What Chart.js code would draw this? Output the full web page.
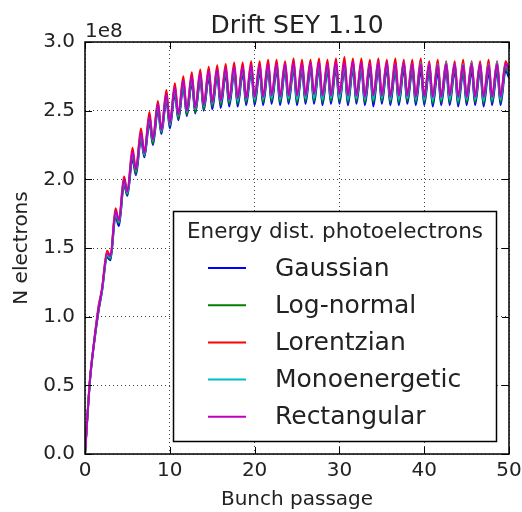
<!DOCTYPE html>
<html>
<head>
<meta charset="utf-8">
<script src="https://cdn.jsdelivr.net/npm/chart.js@4/dist/chart.umd.min.js"></script>
<style>
  body { margin: 0; background: #fff; }
</style>
</head>
<body>
<canvas id="seyChart" width="522" height="512"></canvas>
<script>
// values in units of 1e8 electrons
// troughs sit at each bunch passage n, peaks at n + peakPhase
var peakPhase = 0.6;
var seriesNames = ["Gaussian", "Log-normal", "Lorentzian", "Monoenergetic", "Rectangular"];
var seriesColors = ["#0000ff", "#008000", "#ff0000", "#00bfbf", "#bf00bf"];

var gaussPeaks = [0.54,1.04,1.43,1.73,1.96,2.15,2.29,2.41,2.50,2.57,2.62,2.67,2.70,2.72,2.74,2.75,2.76,2.77,2.77,2.78,2.78,2.79,2.79,2.79,2.80,2.79,2.80,2.80,2.79,2.80,2.80,2.80,2.80,2.79,2.80,2.80,2.79,2.80,2.79,2.79,2.79,2.78,2.79,2.79,2.78,2.79,2.79,2.78,2.79,2.79];
var gaussTroughs = [0,0.77,1.18,1.41,1.66,1.88,2.03,2.16,2.25,2.33,2.37,2.43,2.46,2.48,2.50,2.51,2.52,2.53,2.53,2.54,2.54,2.54,2.55,2.54,2.55,2.54,2.55,2.55,2.54,2.55,2.55,2.54,2.55,2.54,2.53,2.55,2.54,2.54,2.55,2.54,2.54,2.53,2.54,2.54,2.53,2.54,2.54,2.53,2.54,2.54,2.74];

var lognPeaks = [0.55,1.05,1.44,1.74,1.97,2.17,2.31,2.43,2.52,2.59,2.64,2.69,2.72,2.74,2.76,2.77,2.78,2.79,2.79,2.80,2.80,2.81,2.81,2.81,2.82,2.81,2.82,2.82,2.81,2.82,2.82,2.82,2.82,2.81,2.82,2.82,2.81,2.82,2.81,2.82,2.81,2.81,2.82,2.81,2.81,2.82,2.81,2.81,2.82,2.81];
var lognTroughs = [0,0.77,1.19,1.42,1.68,1.89,2.04,2.17,2.26,2.34,2.39,2.44,2.47,2.49,2.51,2.53,2.54,2.55,2.55,2.56,2.56,2.56,2.57,2.56,2.57,2.56,2.57,2.57,2.56,2.57,2.57,2.56,2.57,2.56,2.56,2.57,2.56,2.56,2.57,2.56,2.56,2.55,2.56,2.56,2.55,2.56,2.56,2.55,2.56,2.56,2.76];

var lorentzPeaks = [0.56,1.08,1.48,1.79,2.02,2.23,2.37,2.49,2.57,2.65,2.70,2.75,2.78,2.80,2.82,2.83,2.84,2.85,2.85,2.86,2.86,2.87,2.87,2.86,2.88,2.87,2.87,2.88,2.87,2.88,2.89,2.88,2.88,2.87,2.88,2.87,2.88,2.87,2.87,2.88,2.86,2.87,2.86,2.86,2.87,2.86,2.86,2.87,2.86,2.86];
var lorentzTroughs = [0,0.78,1.20,1.44,1.70,1.91,2.07,2.19,2.29,2.36,2.41,2.47,2.50,2.52,2.54,2.56,2.57,2.58,2.58,2.59,2.59,2.60,2.60,2.60,2.61,2.60,2.61,2.61,2.60,2.61,2.61,2.60,2.61,2.60,2.60,2.61,2.60,2.60,2.61,2.60,2.60,2.59,2.60,2.60,2.59,2.60,2.60,2.59,2.60,2.60,2.80];

var monoPeaks = [0.55,1.06,1.45,1.76,1.99,2.19,2.33,2.45,2.54,2.61,2.66,2.71,2.74,2.76,2.78,2.79,2.80,2.81,2.81,2.82,2.82,2.83,2.83,2.83,2.84,2.83,2.84,2.84,2.83,2.84,2.84,2.84,2.84,2.84,2.85,2.84,2.84,2.85,2.84,2.85,2.84,2.84,2.85,2.84,2.84,2.85,2.84,2.84,2.85,2.84];
var monoTroughs = [0,0.78,1.19,1.43,1.69,1.90,2.06,2.18,2.28,2.35,2.40,2.46,2.49,2.51,2.53,2.55,2.56,2.57,2.57,2.58,2.58,2.58,2.59,2.58,2.59,2.58,2.59,2.59,2.58,2.59,2.59,2.58,2.59,2.58,2.58,2.59,2.58,2.58,2.59,2.58,2.58,2.57,2.58,2.58,2.57,2.58,2.58,2.57,2.58,2.58,2.78];

var rectPeaks = [0.55,1.06,1.46,1.77,2.00,2.20,2.34,2.46,2.55,2.62,2.67,2.72,2.75,2.77,2.79,2.80,2.81,2.82,2.82,2.83,2.83,2.84,2.84,2.84,2.85,2.84,2.85,2.85,2.84,2.85,2.85,2.86,2.85,2.84,2.85,2.85,2.84,2.85,2.84,2.84,2.84,2.83,2.84,2.84,2.83,2.84,2.84,2.83,2.84,2.84];
var rectTroughs = [0,0.78,1.20,1.44,1.70,1.91,2.07,2.19,2.29,2.36,2.41,2.47,2.50,2.52,2.54,2.56,2.57,2.58,2.59,2.59,2.60,2.60,2.61,2.60,2.61,2.61,2.61,2.62,2.61,2.61,2.62,2.61,2.61,2.60,2.61,2.61,2.60,2.61,2.61,2.60,2.60,2.60,2.60,2.61,2.60,2.60,2.60,2.60,2.60,2.60,2.79];

var xTicks = [0, 10, 20, 30, 40, 50];
var yTicks = [0, 0.5, 1.0, 1.5, 2.0, 2.5, 3.0];

var peaksList = [gaussPeaks, lognPeaks, lorentzPeaks, monoPeaks, rectPeaks];
var troughsList = [gaussTroughs, lognTroughs, lorentzTroughs, monoTroughs, rectTroughs];

function buildPoints(troughs, peaks) {
  var pts = [];
  for (var n = 0; n < troughs.length; n++) {
    pts.push({x: n, y: troughs[n]});
    if (n < peaks.length) pts.push({x: n + peakPhase, y: peaks[n]});
  }
  return pts;
}

var FONT = "'DejaVu Sans', sans-serif";

var datasets = seriesNames.map(function(name, i) {
  return {
    label: name,
    data: buildPoints(troughsList[i], peaksList[i]),
    borderColor: seriesColors[i],
    borderWidth: 2,
    pointRadius: 0,
    fill: false,
    cubicInterpolationMode: 'monotone',
    order: seriesNames.length - 1 - i  // later series on top, like matplotlib
  };
});

var framePlugin = {
  id: 'frame',
  afterDraw: function(chart) {
    var c = chart.ctx, a = chart.chartArea;
    var sx = chart.scales.x, sy = chart.scales.y;
    c.save();
    // frame
    c.strokeStyle = '#000';
    c.lineWidth = 1.5;
    c.strokeRect(a.left, a.top, a.right - a.left, a.bottom - a.top);
    // inward ticks on all four sides
    c.lineWidth = 1;
    var tl = 7;
    c.beginPath();
    xTicks.forEach(function(v) {
      var px = Math.round(sx.getPixelForValue(v)) + 0.5;
      c.moveTo(px, a.bottom); c.lineTo(px, a.bottom - tl);
      c.moveTo(px, a.top); c.lineTo(px, a.top + tl);
    });
    yTicks.forEach(function(v) {
      var py = Math.round(sy.getPixelForValue(v)) + 0.5;
      c.moveTo(a.left, py); c.lineTo(a.left + tl, py);
      c.moveTo(a.right, py); c.lineTo(a.right - tl, py);
    });
    c.stroke();
    // title and offset text
    c.fillStyle = '#222';
    c.textBaseline = 'alphabetic';
    c.textAlign = 'center';
    c.font = '25px ' + FONT;
    c.fillText('Drift SEY 1.10', (a.left + a.right) / 2, 33);
    c.textAlign = 'left';
    c.font = '20px ' + FONT;
    c.fillText('1e8', a.left, 37);
    // legend box
    var bx = 173.5, by = 211.5, bw = 323, bh = 230;
    c.fillStyle = '#fff';
    c.fillRect(bx, by, bw, bh);
    c.strokeStyle = '#000';
    c.lineWidth = 1.5;
    c.strokeRect(bx, by, bw, bh);
    c.fillStyle = '#222';
    c.textAlign = 'center';
    c.textBaseline = 'middle';
    c.font = '21.5px ' + FONT;
    c.fillText('Energy dist. photoelectrons', bx + bw / 2, 232);
    c.textAlign = 'left';
    c.font = '25px ' + FONT;
    seriesNames.forEach(function(name, i) {
      var y = 268 + i * 37.2;
      c.strokeStyle = seriesColors[i];
      c.lineWidth = 2;
      c.beginPath();
      c.moveTo(208, y); c.lineTo(246, y);
      c.stroke();
      c.fillStyle = '#222';
      c.fillText(name, 275, y + 1);
    });
    c.restore();
  }
};

new Chart(document.getElementById('seyChart'), {
  type: 'line',
  data: { datasets: datasets },
  plugins: [framePlugin],
  options: {
    responsive: false,
    animation: false,
    layout: { padding: { top: 42, right: 13, left: 0, bottom: 0 } },
    plugins: {
      legend: { display: false },
      title: { display: false },
      tooltip: { enabled: false }
    },
    scales: {
      x: {
        type: 'linear',
        min: 0, max: 50,
        afterFit: function(s) { s.height = 58; s.paddingLeft = 0; s.paddingRight = 0; },
        afterBuildTicks: function(s) { s.ticks = xTicks.map(function(v) { return {value: v}; }); },
        ticks: { color: '#222', padding: 5, font: { family: FONT, size: 20 }, maxRotation: 0 },
        grid: { color: 'rgba(0,0,0,0.75)', lineWidth: 1, drawTicks: false },
        border: { display: false, dash: [1, 3] },
        title: { display: true, text: 'Bunch passage', color: '#222', padding: { top: 0, bottom: 0 }, font: { family: FONT, size: 20 } }
      },
      y: {
        min: 0, max: 3,
        afterFit: function(s) { s.width = 85; s.paddingTop = 0; s.paddingBottom = 0; },
        afterBuildTicks: function(s) { s.ticks = yTicks.map(function(v) { return {value: v}; }); },
        ticks: { color: '#222', padding: 10, font: { family: FONT, size: 20 }, callback: function(v) { return v.toFixed(1); } },
        grid: { color: 'rgba(0,0,0,0.75)', lineWidth: 1, drawTicks: false },
        border: { display: false, dash: [1, 3] },
        title: { display: true, text: 'N electrons', color: '#222', padding: { top: 10, bottom: 0 }, font: { family: FONT, size: 20 } }
      }
    }
  }
});
</script>
</body>
</html>
